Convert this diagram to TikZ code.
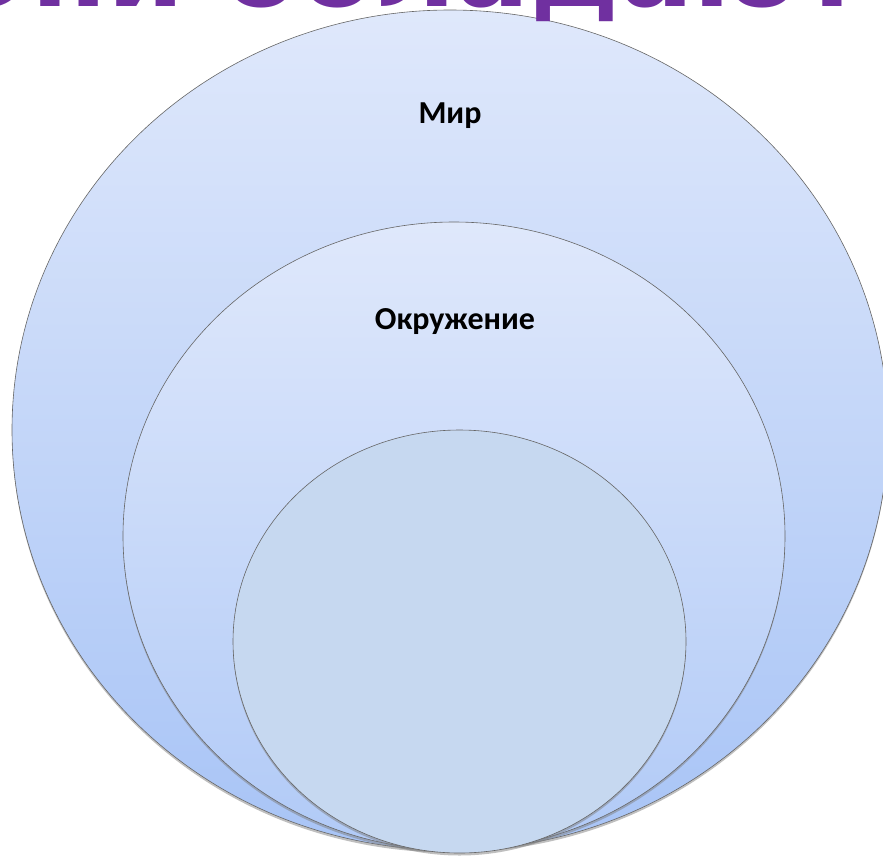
\documentclass[tikz,border=0pt]{standalone}
\usepackage{fontspec}
\usetikzlibrary{shapes.geometric,shadows}
\newfontfamily\titlefont{DejaVu Sans}
\newfontfamily\labelfont{Carlito}
\definecolor{titlepurple}{RGB}{112,48,160}
\definecolor{ringtop}{RGB}{223,232,251}
\definecolor{ringbottom}{RGB}{168,196,246}
\definecolor{corefill}{RGB}{198,216,240}

\begin{document}
\begin{tikzpicture}[x=1pt,y=-1pt]
\tikzstyle{ring}=[ellipse, draw=black!60, line width=0.6pt, inner sep=0pt,
  drop shadow={shadow xshift=0pt, shadow yshift=-2.5pt, opacity=0.5}]
\tikzstyle{label}=[font=\labelfont\bfseries\fontsize{32}{38}\selectfont, inner sep=0pt]

\useasboundingbox (0,0) rectangle (883,855);
\clip (0,0) rectangle (883,855);

\node[ring, top color=ringtop, bottom color=ringbottom,
  minimum width=876pt, minimum height=840pt] (world) at (450,430) {};
\node[ring, top color=ringtop, bottom color=ringbottom!90!white,
  minimum width=662pt, minimum height=628pt] (env) at (454,536) {};
\node[ring, fill=corefill,
  minimum width=453pt, minimum height=423pt] (core) at (459.5,641.5) {};

\node[label] (worldlabel) at (450,116) {Мир};
\node[label] (envlabel) at (455,322) {Окружение};

\node[font=\titlefont\bfseries\fontsize{110}{120}\selectfont, text=titlepurple,
  anchor=base west, inner sep=0pt] (title) at (-62,6) {Они обладают};
\end{tikzpicture}
\end{document}
